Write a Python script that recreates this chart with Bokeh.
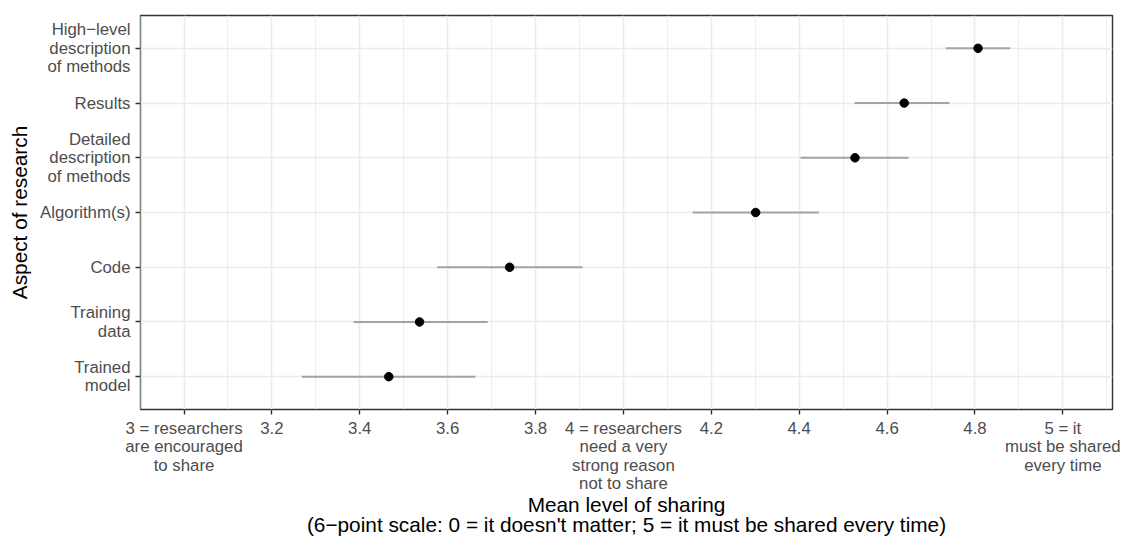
from bokeh.plotting import figure
from bokeh.models import FixedTicker, Range1d, ColumnDataSource, Title
from bokeh.embed import file_html
from bokeh.resources import INLINE

# ---- data (bottom to top) ----
aspects = [
    "Trained\nmodel",
    "Training\ndata",
    "Code",
    "Algorithm(s)",
    "Detailed\ndescription\nof methods",
    "Results",
    "High\u2212level\ndescription\nof methods",
]
mean_sharing = [3.466, 3.536, 3.741, 4.301, 4.527, 4.639, 4.807]
ci_lower = [3.268, 3.386, 3.576, 4.158, 4.403, 4.526, 4.734]
ci_upper = [3.663, 3.691, 3.907, 4.445, 4.649, 4.742, 4.880]

x_ticks = [3, 3.2, 3.4, 3.6, 3.8, 4, 4.2, 4.4, 4.6, 4.8, 5]
x_minor = [2.9, 3.1, 3.3, 3.5, 3.7, 3.9, 4.1, 4.3, 4.5, 4.7, 4.9, 5.1]
x_tick_labels = {
    3: "3 = researchers\nare encouraged\nto share",
    4: "4 = researchers\nneed a very\nstrong reason\nnot to share",
    5: "5 = it\nmust be shared\nevery time",
}
x_title_lines = [
    "Mean level of sharing",
    "(6\u2212point scale: 0 = it doesn't matter; 5 = it must be shared every time)",
]
y_title = "Aspect of research"

positions = list(range(1, len(aspects) + 1))
src = ColumnDataSource(dict(y=positions, m=mean_sharing, lo=ci_lower, hi=ci_upper))

FONT = "Liberation Sans"

p = figure(width=1129, height=536, output_backend="svg", toolbar_location=None,
           x_range=Range1d(2.901, 5.113), y_range=Range1d(0.4, 7.6),
           min_border_left=140, min_border_right=17, min_border_top=15,
           min_border_bottom=127)
p.background_fill_color = "white"
p.border_fill_color = "white"
p.outline_line_color = "#333333"
p.outline_line_width = 1.4

p.segment(x0="lo", y0="y", x1="hi", y1="y", source=src, line_color="#A3A3A3", line_width=2)
p.scatter(x="m", y="y", source=src, size=8.5, color="black")

xt = FixedTicker(ticks=x_ticks, minor_ticks=x_minor)
p.xaxis.ticker = xt
p.xgrid.ticker = xt
overrides = {}
for t in x_ticks:
    overrides[t] = x_tick_labels.get(t, f"{t:.1f}")
p.xaxis.major_label_overrides = overrides

yt = FixedTicker(ticks=positions)
p.yaxis.ticker = yt
p.ygrid.ticker = yt
p.yaxis.major_label_overrides = {i + 1: a for i, a in enumerate(aspects)}

for ax in (p.xaxis[0], p.yaxis[0]):
    ax.axis_line_color = None
    ax.major_tick_line_color = "#333333"
    ax.major_tick_line_width = 1.4
    ax.major_tick_out = 5
    ax.major_tick_in = 0
    ax.minor_tick_line_color = None
    ax.major_label_text_font = FONT
    ax.major_label_text_font_size = "16.8px"
    ax.major_label_text_color = "#4D4D4D"
    ax.major_label_text_line_height = 0.975
    ax.axis_label_text_font = FONT
    ax.axis_label_text_font_size = "20.8px"
    ax.axis_label_text_font_style = "normal"
    ax.axis_label_text_color = "black"

p.xaxis.major_label_standoff = 4
p.yaxis.major_label_standoff = 5
p.yaxis.axis_label = y_title
p.yaxis.axis_label_standoff = 6

# x-axis title: two centred lines stacked below the axis
for line, so in zip(x_title_lines, [-11, 1]):
    p.add_layout(Title(text=line, align="center", standoff=so,
                       text_font=FONT, text_font_size="20.8px",
                       text_font_style="normal", text_color="black"), "below")

p.xgrid.grid_line_color = "#EBEBEB"
p.xgrid.grid_line_width = 1.6
p.ygrid.grid_line_color = "#EBEBEB"
p.ygrid.grid_line_width = 1.6
p.xgrid.minor_grid_line_color = "#EBEBEB"
p.xgrid.minor_grid_line_width = 0.9

open("out.html", "w").write(file_html(p, INLINE))
